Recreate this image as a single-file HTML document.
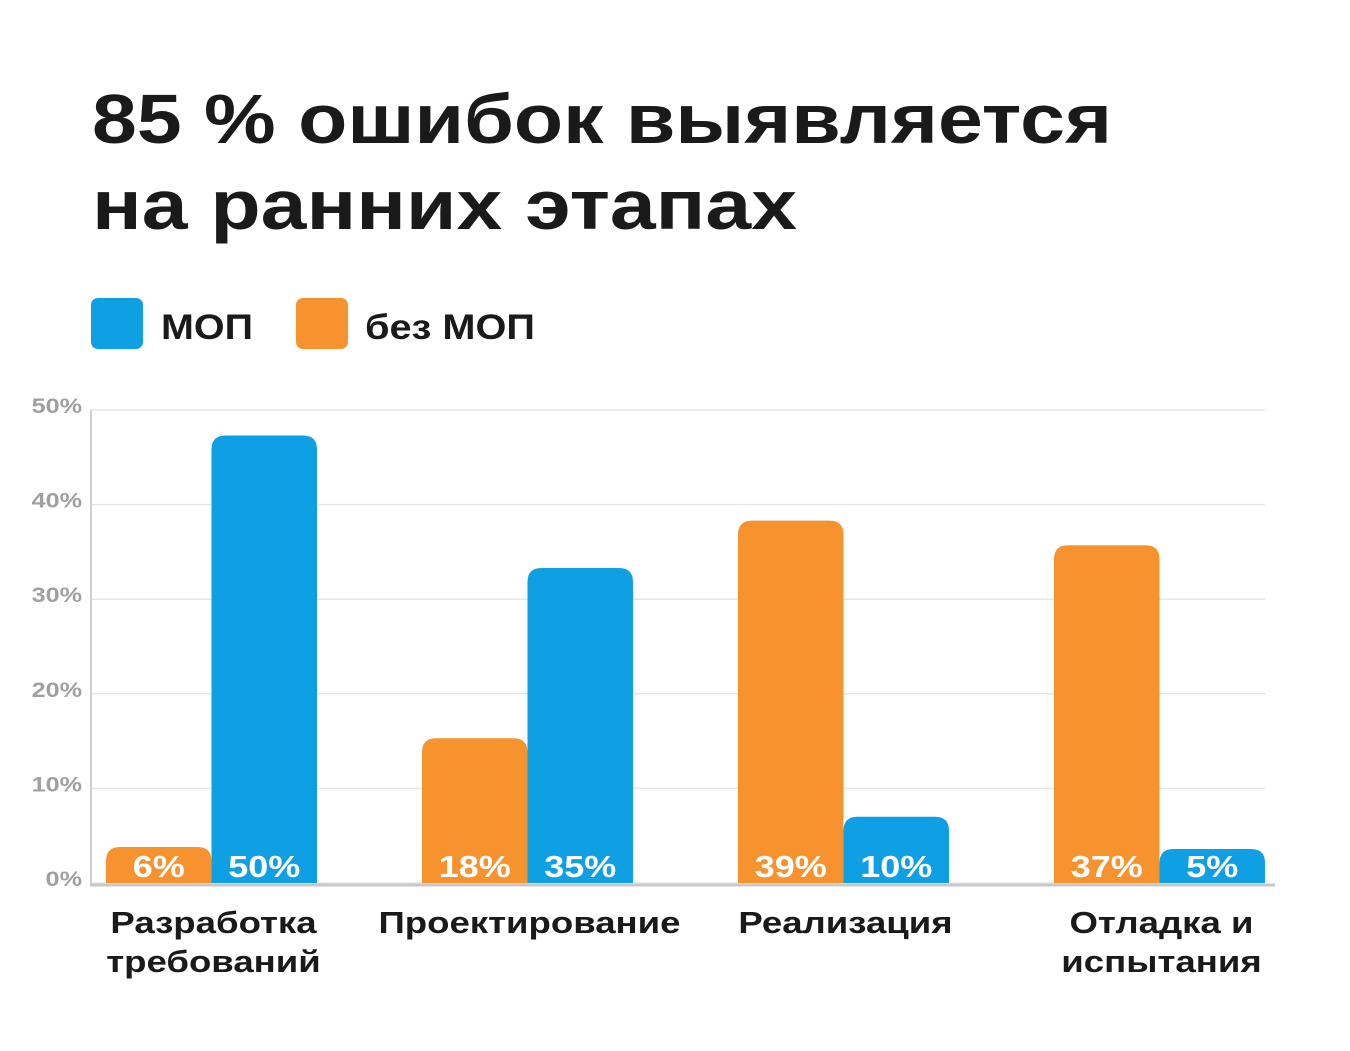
<!DOCTYPE html>
<html><head><meta charset="utf-8"><style>
html,body{margin:0;padding:0;background:#fff;}
svg{display:block;font-family:"Liberation Sans",sans-serif;font-weight:bold;}
</style></head><body>
<svg id="chart" width="1350" height="1051" viewBox="0 0 1350 1051">
<g fill="#1a1a1a" font-size="70">
<text x="92" y="143" textLength="1020" lengthAdjust="spacingAndGlyphs">85 % ошибок выявляется</text>
<text x="92" y="229" textLength="705" lengthAdjust="spacingAndGlyphs">на ранних этапах</text>
</g>
<g>
<rect x="91" y="298" width="52" height="51" rx="7" fill="#0f9fe3"/>
<text x="161" y="339" font-size="35" fill="#1a1a1a" textLength="92" lengthAdjust="spacingAndGlyphs">МОП</text>
<rect x="296" y="298" width="52" height="51" rx="7" fill="#f7932f"/>
<text x="365" y="339" font-size="35" fill="#1a1a1a" textLength="170" lengthAdjust="spacingAndGlyphs">без МОП</text>
</g>
<g id="plot"></g>
</svg>
<script>
const categories=[["Разработка","требований"],["Проектирование"],["Реализация"],["Отладка и","испытания"]];
const noMopValues=[3.8,15.3,38.3,35.7];
const mopValues=[47.3,33.3,7.0,3.6];
const noMopLabels=["6%","18%","39%","37%"];
const mopLabels=["50%","35%","10%","5%"];
const yTicks=[0,10,20,30,40,50];
const yTickLabels=["0%","10%","20%","30%","40%","50%"];

const NS="http://www.w3.org/2000/svg";
const plot=document.getElementById('plot');
const y0=883,yPerPct=(883-410)/50;
const y=v=>y0-v*yPerPct;
const groupX=i=>106+i*316;
const barW=105.5;
function mk(tag,attrs,parent){const e=document.createElementNS(NS,tag);for(const k in attrs)e.setAttribute(k,attrs[k]);(parent||plot).appendChild(e);return e;}
function widen(t,f){const w=t.getComputedTextLength();t.setAttribute('textLength',w*f);t.setAttribute('lengthAdjust','spacingAndGlyphs');}
function barPath(x,top,w,bottom,r){r=Math.min(r,(bottom-top));return `M${x},${bottom}V${top+r}Q${x},${top} ${x+r},${top}H${x+w-r}Q${x+w},${top} ${x+w},${top+r}V${bottom}Z`;}

yTicks.forEach((t,i)=>{
  const g=mk('line',{x1:91,x2:1265,y1:y(t),y2:y(t),stroke:'#e6e6e6','stroke-width':1.5});
  
  
  const tx=mk('text',{x:82,y:y(t)+3,'text-anchor':'end','font-size':21,fill:'#a0a0a0'});
  tx.textContent=yTickLabels[i];
  
  
  widen(tx,1.2);
});
const ax=mk('line',{x1:91,x2:91,y1:410,y2:886,stroke:'#cfcfcf','stroke-width':2});


const bx=mk('line',{x1:90,x2:1275,y1:885,y2:885,stroke:'#c8c8c8','stroke-width':3});



categories.forEach((c,i)=>{
  const x=groupX(i);
  const ob=mk('path',{d:barPath(x,y(noMopValues[i]),barW,y0,14),fill:'#f7932f'});
  
  
  const bb=mk('path',{d:barPath(x+barW,y(mopValues[i]),barW,y0,14),fill:'#0f9fe3'});
  
  
  const ol=mk('text',{x:x+barW/2,y:877,'text-anchor':'middle','font-size':31,fill:'#fff'});
  ol.textContent=noMopLabels[i];
  
  
  widen(ol,1.16);
  const bl=mk('text',{x:x+barW*1.5,y:877,'text-anchor':'middle','font-size':31,fill:'#fff'});
  bl.textContent=mopLabels[i];
  
  
  widen(bl,1.16);
  c.forEach((line,j)=>{
    const t=mk('text',{x:x+barW+2,y:933+j*39,'text-anchor':'middle','font-size':31,fill:'#1a1a1a'});
    t.textContent=line;
    
    
    widen(t,1.18);
  });
});
</script>
</body></html>
